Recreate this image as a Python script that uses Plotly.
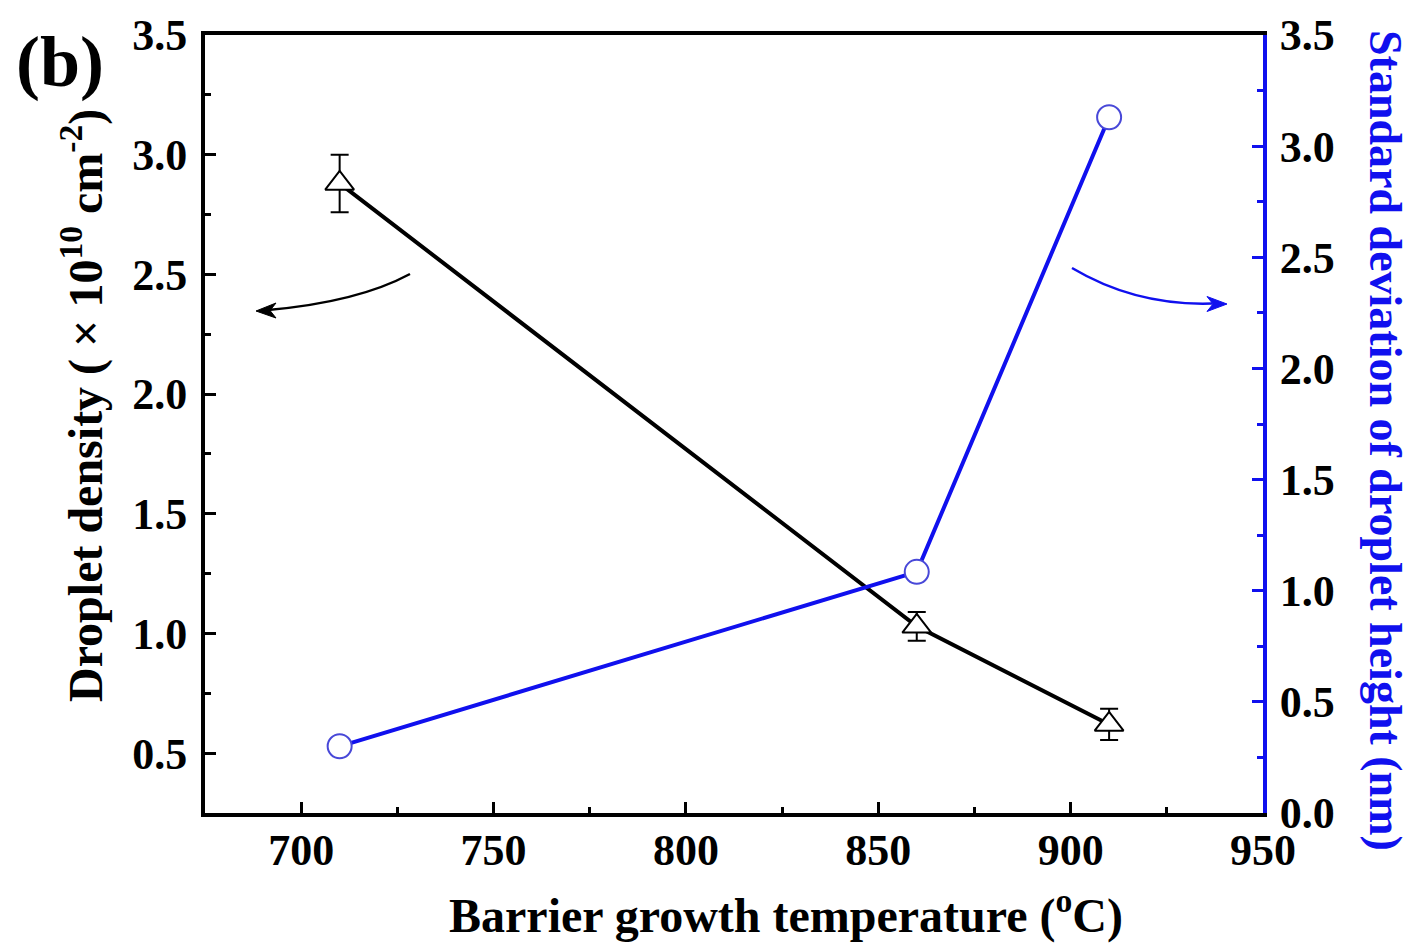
import plotly.graph_objects as go

# ---- data ----
temperature = [710, 860, 910]
density = [2.88, 1.03, 0.62]
density_err = [0.12, 0.06, 0.065]
std_height = [0.30, 1.085, 3.13]

x_ticks = [700, 750, 800, 850, 900, 950]
y_left_ticks = [0.5, 1.0, 1.5, 2.0, 2.5, 3.0, 3.5]
y_right_ticks = [0.0, 0.5, 1.0, 1.5, 2.0, 2.5, 3.0, 3.5]

W, H = 1411, 947
ML, MR, MT, MB = 205, 148, 35, 134
PW, PH = W - ML - MR, H - MT - MB

def px(xp, yp):
    return (xp - ML) / PW, (H - MB - yp) / PH

FONT = "Liberation Serif"
BLUE = "#1010ee"

fig = go.Figure()

fig.add_trace(go.Scatter(
    x=temperature, y=density, mode="lines+markers",
    line=dict(color="black", width=4),
    marker=dict(symbol="triangle-up", size=25, color="white",
                line=dict(color="black", width=2)),
    error_y=dict(type="data", array=density_err, color="black",
                 thickness=2, width=9),
    yaxis="y", showlegend=False))

fig.add_trace(go.Scatter(
    x=temperature, y=std_height, mode="lines+markers",
    line=dict(color=BLUE, width=4),
    marker=dict(symbol="circle", size=24, color="white",
                line=dict(color="#4848d8", width=2)),
    yaxis="y2", showlegend=False))

tickfont = dict(family=FONT, size=44, color="black", weight="bold")

fig.update_layout(
    width=W, height=H,
    margin=dict(l=ML, r=MR, t=MT, b=MB, autoexpand=False),
    paper_bgcolor="white", plot_bgcolor="white",
    xaxis=dict(range=[675, 950], tickvals=x_ticks, ticks="inside",
               ticklen=11, tickwidth=3, tickcolor="black",
               minor=dict(ticks="inside", dtick=25, tick0=0, ticklen=6,
                          tickwidth=3, tickcolor="black"),
               showline=True, linecolor="black", linewidth=4, mirror=True,
               showgrid=False, zeroline=False, tickfont=tickfont,
               ticklabelstandoff=-5),
    yaxis=dict(range=[0.25, 3.5], tickvals=y_left_ticks, ticks="inside",
               ticklen=11, tickwidth=3, tickcolor="black",
               minor=dict(ticks="inside", dtick=0.25, tick0=0, ticklen=6,
                          tickwidth=3, tickcolor="black"),
               tickformat=".1f",
               showline=True, linecolor="black", linewidth=4,
               showgrid=False, zeroline=False, tickfont=tickfont,
               ticklabelstandoff=5),
    yaxis2=dict(range=[0, 3.5], tickvals=y_right_ticks, ticks="inside",
                ticklen=11, tickwidth=3, tickcolor=BLUE,
                minor=dict(ticks="inside", dtick=0.25, tick0=0, ticklen=6,
                           tickwidth=3, tickcolor=BLUE),
                tickformat=".1f",
                overlaying="y", side="right",
                showline=True, linecolor=BLUE, linewidth=4,
                showgrid=False, zeroline=False, tickfont=tickfont,
                ticklabelstandoff=4),
)

annots = []
x0, y0 = px(82, 406)
annots.append(dict(x=x0, y=y0, xref="paper", yref="paper", showarrow=False,
                   text="<b>Droplet density ( × 10<sup>10</sup> cm<sup>-2</sup>)</b>",
                   textangle=-90, font=dict(family=FONT, size=48, color="black"),
                   xanchor="center", yanchor="middle"))
x0, y0 = px(1386, 440)
annots.append(dict(x=x0, y=y0, xref="paper", yref="paper", showarrow=False,
                   text="<b>Standard deviation of droplet height (nm)</b>",
                   textangle=90, font=dict(family=FONT, size=46, color=BLUE),
                   xanchor="center", yanchor="middle"))
x0, y0 = px(786, 912)
annots.append(dict(x=x0, y=y0, xref="paper", yref="paper", showarrow=False,
                   text="<b>Barrier growth temperature (<sup>o</sup>C)</b>",
                   font=dict(family=FONT, size=48, color="black"),
                   xanchor="center", yanchor="middle"))
x0, y0 = px(60, 62)
annots.append(dict(x=x0, y=y0, xref="paper", yref="paper", showarrow=False,
                   text="<b>(b)</b>",
                   font=dict(family=FONT, size=72, color="black"),
                   xanchor="center", yanchor="middle"))
fig.update_layout(annotations=annots)

def qpath(p0, c, p2):
    a = px(*p0); b = px(*c); d = px(*p2)
    return f"M {a[0]},{a[1]} Q {b[0]},{b[1]} {d[0]},{d[1]}"

def poly(points):
    pts = [px(*p) for p in points]
    return "M " + " L ".join(f"{a},{b}" for a, b in pts) + " Z"

# curved arrows
fig.add_shape(type="path", xref="paper", yref="paper",
              path=qpath((410, 274), (358, 302), (268, 310)),
              line=dict(color="black", width=2.5))
fig.add_shape(type="path", xref="paper", yref="paper",
              path=poly([(256, 311), (276, 303), (270, 310.5), (276, 318)]),
              line=dict(color="black", width=1), fillcolor="black")
fig.add_shape(type="path", xref="paper", yref="paper",
              path=qpath((1072, 268), (1136, 306), (1212, 303.5)),
              line=dict(color=BLUE, width=2.5))
fig.add_shape(type="path", xref="paper", yref="paper",
              path=poly([(1227, 304), (1207, 296.5), (1213, 304), (1207, 311.5)]),
              line=dict(color=BLUE, width=1), fillcolor=BLUE)

fig.write_html("out.html", config={"displayModeBar": False},
               post_script="document.body.style.margin='0';document.body.style.padding='0';")
